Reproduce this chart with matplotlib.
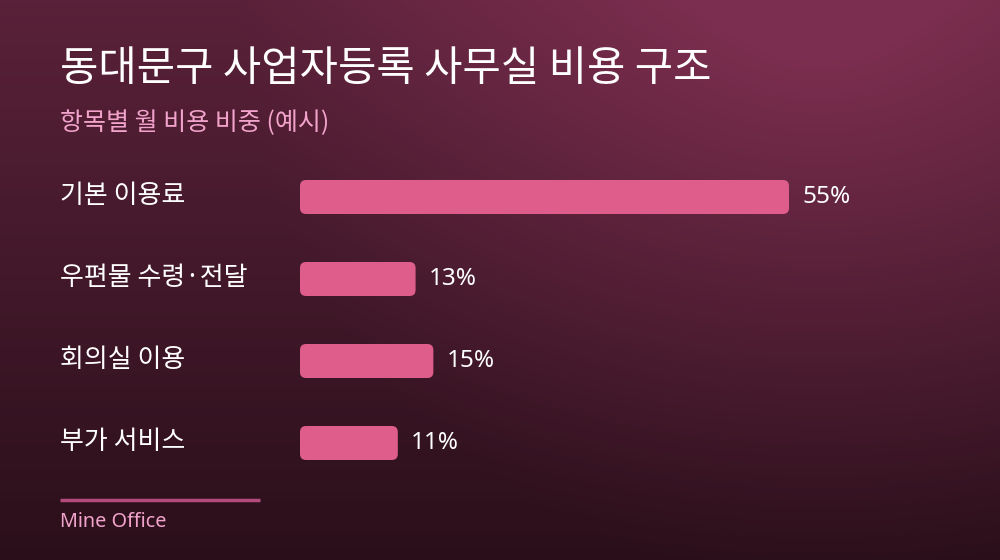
import numpy as np
import matplotlib
matplotlib.use("Agg")
import matplotlib.pyplot as plt
from matplotlib.patches import FancyBboxPatch
import matplotlib.transforms as mtransforms

plt.rcParams['font.family'] = ['Noto Sans CJK KR', 'DejaVu Sans']

# Data
categories = ["기본 이용료", "우편물 수령·전달", "회의실 이용", "부가 서비스"]
shares = [55, 13, 15, 11]
value_labels = ["55%", "13%", "15%", "11%"]

title = "동대문구 사업자등록 사무실 비용 구조"
subtitle = "항목별 월 비용 비중 (예시)"
footer = "Mine Office"

W, H = 1000, 560
fig = plt.figure(figsize=(W / 100, H / 100), dpi=100)

# Background: dark vertical fade plus a glow from the top right
bg = fig.add_axes([0, 0, 1, 1])
yy, xx = np.mgrid[0:H, 0:W]
r = np.sqrt((xx - 820) ** 2 + yy ** 2)
light = 0.56 * (1 - yy / H) + 0.5 * np.clip(1 - r / 580, 0, 1)
light = np.clip(light, 0, 0.95)
c_light = np.array([0x80, 0x30, 0x52]) / 255
c_dark = np.array([0x2a, 0x0f, 0x1a]) / 255
img = c_dark[None, None, :] + light[..., None] * (c_light - c_dark)[None, None, :]
bg.imshow(img, extent=[0, W, H, 0], aspect="auto")
bg.set_xlim(0, W)
bg.set_ylim(H, 0)
bg.axis("off")

# Bars axes: x from 300px, 55% -> 489px; rows 82px apart starting at 156px
ax_left, ax_w = 300, 489
ax_top, ax_bot = 156, 484
ax = fig.add_axes([ax_left / W, 1 - ax_bot / H, ax_w / W, (ax_bot - ax_top) / H])
ax.set_xlim(0, 55)
ax.set_ylim(len(categories) - 0.5, -0.5)
ax.axis("off")
ax.patch.set_alpha(0)

bar_h = 34 / 82
px_x = 55 / ax_w          # data units per px in x
px_y = 1 / 82             # data units per px in y
radius = 6 * px_x
bars = ax.barh(range(len(categories)), shares, height=bar_h, color="none")
for rect, val, lab in zip(bars, shares, value_labels):
    x0, y0 = rect.get_x(), rect.get_y()
    w, h = rect.get_width(), rect.get_height()
    p = FancyBboxPatch((x0, y0), w, h,
                       boxstyle=f"round,pad=0,rounding_size={radius}",
                       mutation_aspect=px_y / px_x,
                       facecolor="#df5d8a", edgecolor="none")
    ax.add_patch(p)
    ax.text(val + 13 * px_x, y0 + h / 2, lab, color="white", fontsize=17.5,
            va="center", ha="left", family=['Noto Sans', 'DejaVu Sans'])

trans = mtransforms.blended_transform_factory(fig.transFigure, ax.transData)
for i, cat in enumerate(categories):
    ax.text(60 / W, i - 0.02, cat, transform=trans, color="white", fontsize=18.7,
            va="center", ha="left", clip_on=False)

# Titles
fig.text(60 / W, 1 - 70 / H, title, color="white", fontsize=30,
         fontweight="medium", va="center", ha="left")
fig.text(60 / W, 1 - 123 / H, subtitle, color="#f2a3cb", fontsize=18,
         va="center", ha="left")

# Footer
bg.plot([60, 260], [500, 500], color="#b34c7c", lw=2.5, solid_capstyle="butt")
fig.text(60 / W, 1 - 522 / H, footer, color="#f2a3cb", fontsize=14.3,
         va="center", ha="left", family=['Noto Sans', 'DejaVu Sans'])

fig.savefig("out.png", dpi=100)
